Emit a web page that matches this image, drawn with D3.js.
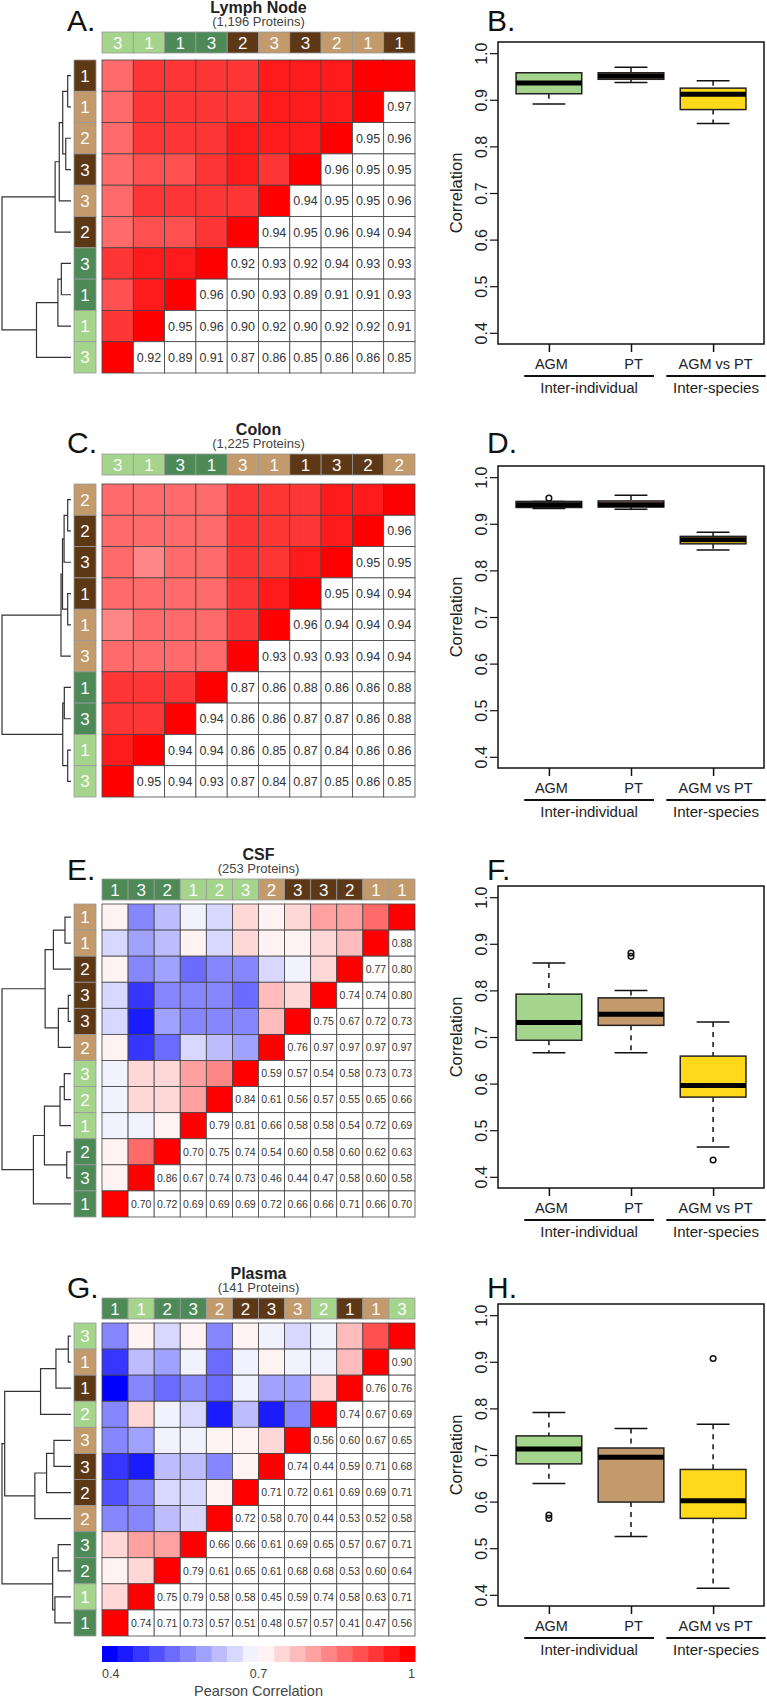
<!DOCTYPE html>
<html>
<head>
<meta charset="utf-8">
<script src="https://cdn.jsdelivr.net/npm/d3@7"></script>
<style>
  body { margin: 0; background: #fff; }
  text { font-family: "Liberation Sans", Arial, sans-serif; }
</style>
</head>
<body>
<svg id="fig" width="767" height="1699"></svg>
<script>
// sample group colours (annotation bars)
var groupColor = { AGM1: "#a5d48c", AGM2: "#4d8a58", PT1: "#c39a6c", PT2: "#5d3816" };

// ---- Lymph node ----
var lnRowNum = [1, 1, 2, 3, 3, 2, 3, 1, 1, 3];
var lnRowGrp = ["PT2", "PT1", "PT1", "PT2", "PT1", "PT2", "AGM2", "AGM2", "AGM1", "AGM1"];
var lnCorr = [
  [],
  [0.97],
  [0.95, 0.96],
  [0.96, 0.95, 0.95],
  [0.94, 0.95, 0.95, 0.96],
  [0.94, 0.95, 0.96, 0.94, 0.94],
  [0.92, 0.93, 0.92, 0.94, 0.93, 0.93],
  [0.96, 0.90, 0.93, 0.89, 0.91, 0.91, 0.93],
  [0.95, 0.96, 0.90, 0.92, 0.90, 0.92, 0.92, 0.91],
  [0.92, 0.89, 0.91, 0.87, 0.86, 0.85, 0.86, 0.86, 0.85]
];
// [height, left, right], leaves are row indexes
var lnTree = [1, [0.23, [0.17, [0.12, [0.048, 0, 1], [0.076, 2, 3]], 4], 5], [0.50, [0.19, [0.14, 6, 7], 8], 9]];

// ---- Colon ----
var coRowNum = [2, 2, 3, 1, 1, 3, 1, 3, 1, 3];
var coRowGrp = ["PT1", "PT2", "PT2", "PT2", "PT1", "PT1", "AGM2", "AGM2", "AGM1", "AGM1"];
var coCorr = [
  [],
  [0.96],
  [0.95, 0.95],
  [0.95, 0.94, 0.94],
  [0.96, 0.94, 0.94, 0.94],
  [0.93, 0.93, 0.93, 0.94, 0.94],
  [0.87, 0.86, 0.88, 0.86, 0.86, 0.88],
  [0.94, 0.86, 0.86, 0.87, 0.87, 0.86, 0.88],
  [0.94, 0.94, 0.86, 0.85, 0.87, 0.84, 0.86, 0.86],
  [0.95, 0.94, 0.93, 0.87, 0.84, 0.87, 0.85, 0.86, 0.85]
];
var coTree = [1, [0.145, [0.123, [0.10, [0.048, 0, 1], 2], [0.048, 3, 4]], 5], [0.12, [0.097, 6, 7], [0.048, 8, 9]]];

// ---- CSF ----
var csfRowNum = [1, 1, 2, 3, 3, 2, 3, 2, 1, 2, 3, 1];
var csfRowGrp = ["PT1", "PT1", "PT2", "PT2", "PT2", "PT1", "AGM1", "AGM1", "AGM1", "AGM2", "AGM2", "AGM2"];
var csfCorr = [
  [],
  [0.88],
  [0.77, 0.80],
  [0.74, 0.74, 0.80],
  [0.75, 0.67, 0.72, 0.73],
  [0.76, 0.97, 0.97, 0.97, 0.97],
  [0.59, 0.57, 0.54, 0.58, 0.73, 0.73],
  [0.84, 0.61, 0.56, 0.57, 0.55, 0.65, 0.66],
  [0.79, 0.81, 0.66, 0.58, 0.58, 0.54, 0.72, 0.69],
  [0.70, 0.75, 0.74, 0.54, 0.60, 0.58, 0.60, 0.62, 0.63],
  [0.86, 0.67, 0.74, 0.73, 0.46, 0.44, 0.47, 0.58, 0.60, 0.58],
  [0.70, 0.72, 0.69, 0.69, 0.69, 0.72, 0.66, 0.66, 0.71, 0.66, 0.70]
];
// shaded cells in the figure that do not mirror the printed numbers: [row, col, value]
var csfShadeFix = [[0, 6, 0.72], [1, 6, 0.72], [2, 6, 0.66], [3, 6, 0.76]];
var csfTree = [1, [0.375, [0.255, [0.087, 0, 1], 2], [0.183, [0.039, 3, 4], 5]], [0.545, [0.385, [0.159, [0.097, 6, 7], 8], [0.062, 9, 10]], 11]];

// ---- Plasma ----
var plRowNum = [3, 1, 1, 2, 3, 3, 2, 2, 3, 2, 1, 1];
var plRowGrp = ["AGM1", "PT1", "PT2", "AGM1", "PT1", "PT2", "PT2", "PT1", "AGM2", "AGM2", "AGM1", "AGM2"];
var plCorr = [
  [],
  [0.90],
  [0.76, 0.76],
  [0.74, 0.67, 0.69],
  [0.56, 0.60, 0.67, 0.65],
  [0.74, 0.44, 0.59, 0.71, 0.68],
  [0.71, 0.72, 0.61, 0.69, 0.69, 0.71],
  [0.72, 0.58, 0.70, 0.44, 0.53, 0.52, 0.58],
  [0.66, 0.66, 0.61, 0.69, 0.65, 0.57, 0.67, 0.71],
  [0.79, 0.61, 0.65, 0.61, 0.68, 0.68, 0.53, 0.60, 0.64],
  [0.75, 0.79, 0.58, 0.58, 0.45, 0.59, 0.74, 0.58, 0.63, 0.71],
  [0.74, 0.71, 0.73, 0.57, 0.51, 0.48, 0.57, 0.57, 0.41, 0.47, 0.56]
];
var plTree = [1, [0.961, [0.441, [0.218, [0.039, 0, 1], 2], 3], [0.524, [0.354, [0.247, 4, 5], 6], 7]], [0.266, [0.185, 8, 9], [0.233, 10, 11]]];

// ---- box plots: [lower whisker, Q1, median, Q3, upper whisker] ----
var boxCats = ["AGM", "PT", "AGM vs PT"];
var boxFill = ["#a5d48c", "#c39a6c", "#ffd91a"];
var boxGroups = [[0.70, 2.28, "Inter-individual"], [2.43, 3.64, "Inter-species"]];
var lnBox = [[0.891, 0.913, 0.936, 0.958, 0.958], [0.937, 0.944, 0.951, 0.958, 0.970], [0.849, 0.879, 0.912, 0.925, 0.941]];
var lnOut = [[], [], []];
var coBox = [[0.933, 0.935, 0.941, 0.948, 0.948], [0.931, 0.936, 0.941, 0.949, 0.961], [0.844, 0.857, 0.866, 0.873, 0.882]];
var coOut = [[0.955], [], []];
var csfBox = [[0.666, 0.693, 0.731, 0.792, 0.859], [0.666, 0.725, 0.749, 0.784, 0.800], [0.464, 0.571, 0.596, 0.659, 0.732]];
var csfOut = [[], [0.873, 0.880], [0.436]];
var plBox = [[0.639, 0.681, 0.713, 0.741, 0.791], [0.525, 0.599, 0.695, 0.715, 0.757], [0.414, 0.564, 0.602, 0.669, 0.766]];
var plOut = [[0.564, 0.571], [], [0.907]];

var scaleTicks = [0.4, 0.7, 1];

var svg = d3.select("#fig");

// 20 step blue-white-red palette, like colorRampPalette(c("blue","white","red"))(20)
var blueWhite = d3.interpolateRgb("#0000ff", "#ffffff"), whiteRed = d3.interpolateRgb("#ffffff", "#ff0000");
var steps = d3.range(20).map(function(i) {
  var t = i / 19;
  return t < 0.5 ? blueWhite(t * 2) : whiteRed((t - 0.5) * 2);
});
var heatColor = d3.scaleQuantize().domain([0.4, 1]).range(steps);
var fmt = d3.format(".2f");

function drawHeat(p) {
  var n = p.rowNum.length;
  var g = svg.append("g");
  var x = d3.scaleBand().domain(d3.range(n)).range([102, 415]);
  var y = d3.scaleBand().domain(d3.range(n)).range([p.heatY, p.heatY + 313]);
  var fix = {};
  (p.fix || []).forEach(function(f) { fix[f[0] + "-" + f[1]] = f[2]; });

  var cells = [];
  d3.range(n).forEach(function(i) {
    d3.range(n).forEach(function(j) {
      var dj = n - 1 - i, c = { i: i, j: j };
      if (j === dj) { c.v = 1; c.kind = "diag"; }
      else if (j > dj) { c.v = p.corr[i][j - dj - 1]; c.kind = "num"; }
      else {
        c.v = p.corr[n - 1 - j][n - 2 - i - j];
        c.kind = "shade";
        if (fix[i + "-" + j] != null) c.v = fix[i + "-" + j];
      }
      cells.push(c);
    });
  });

  g.selectAll("rect.cell").data(cells).enter().append("rect")
    .attr("x", function(d) { return x(d.j); })
    .attr("y", function(d) { return y(d.i); })
    .attr("width", x.bandwidth()).attr("height", y.bandwidth())
    .attr("fill", function(d) { return d.kind === "num" ? "#fff" : heatColor(d.v); })
    .attr("stroke", "#444").attr("stroke-width", 0.8);

  g.selectAll("text.num").data(cells.filter(function(d) { return d.kind === "num"; }))
    .enter().append("text")
    .attr("x", function(d) { return x(d.j) + x.bandwidth() / 2; })
    .attr("y", function(d) { return y(d.i) + y.bandwidth() / 2; })
    .attr("dy", "0.36em").attr("text-anchor", "middle")
    .attr("font-size", n > 10 ? 10.5 : 12.5).attr("fill", "#333")
    .text(function(d) { return fmt(d.v); });

  // row annotation bar
  var rows = d3.range(n);
  g.selectAll("rect.rowbar").data(rows).enter().append("rect")
    .attr("x", 74).attr("y", function(i) { return y(i); })
    .attr("width", 22).attr("height", y.bandwidth())
    .attr("fill", function(i) { return groupColor[p.rowGrp[i]]; })
    .attr("stroke", "#999").attr("stroke-width", 0.8);
  g.selectAll("text.rowbar").data(rows).enter().append("text")
    .attr("x", 85).attr("y", function(i) { return y(i) + y.bandwidth() / 2; })
    .attr("dy", "0.36em").attr("text-anchor", "middle")
    .attr("font-size", 17).attr("fill", "#fafafa")
    .text(function(i) { return p.rowNum[i]; });

  // column annotation bar (columns are rows reversed)
  g.selectAll("rect.colbar").data(rows).enter().append("rect")
    .attr("x", function(j) { return x(j); }).attr("y", p.barY)
    .attr("width", x.bandwidth()).attr("height", 21)
    .attr("fill", function(j) { return groupColor[p.rowGrp[n - 1 - j]]; })
    .attr("stroke", "#999").attr("stroke-width", 0.8);
  g.selectAll("text.colbar").data(rows).enter().append("text")
    .attr("x", function(j) { return x(j) + x.bandwidth() / 2; }).attr("y", p.barY + 10.5)
    .attr("dy", "0.36em").attr("text-anchor", "middle")
    .attr("font-size", 17).attr("fill", "#fafafa")
    .text(function(j) { return p.rowNum[n - 1 - j]; });

  // dendrogram
  var hx = d3.scaleLinear().domain([0, 1]).range([71, 2]);
  var path = d3.path();
  function walk(node) {
    if (typeof node === "number") return { x: hx(0), y: y(node) + y.bandwidth() / 2 };
    var a = walk(node[1]), b = walk(node[2]), nx = hx(node[0]);
    path.moveTo(a.x, a.y); path.lineTo(nx, a.y); path.lineTo(nx, b.y); path.lineTo(b.x, b.y);
    return { x: nx, y: (a.y + b.y) / 2 };
  }
  walk(p.tree);
  g.append("path").attr("d", path.toString()).attr("fill", "none")
    .attr("stroke", "#333").attr("stroke-width", 1.2);

  g.append("text").attr("x", 258.5).attr("y", p.barY - 19).attr("text-anchor", "middle")
    .attr("font-size", 16).attr("font-weight", "bold").attr("fill", "#222").text(p.title);
  g.append("text").attr("x", 258.5).attr("y", p.barY - 6).attr("text-anchor", "middle")
    .attr("font-size", 13).attr("fill", "#444").text(p.sub);
  g.append("text").attr("x", 67).attr("y", p.letterY)
    .attr("font-size", 30).attr("fill", "#111").text(p.letter);
}

function drawBox(p) {
  var g = svg.append("g");
  var left = 498, right = 764, top = p.top, bottom = p.top + 302;
  var x = d3.scaleLinear().domain([0.38, 3.62]).range([left, right]);
  var y = d3.scaleLinear().domain([0.376, 1.024]).range([bottom, top]);

  var yAxis = g.append("g").attr("transform", "translate(" + left + ",0)")
    .call(d3.axisLeft(y).tickValues([0.4, 0.5, 0.6, 0.7, 0.8, 0.9, 1.0])
      .tickFormat(d3.format(".1f")).tickSize(8));
  yAxis.select(".domain").remove();
  yAxis.selectAll("line").attr("stroke", "#111").attr("stroke-width", 1.2);
  yAxis.selectAll("text").attr("x", null).attr("dy", null)
    .attr("transform", "translate(-11,0) rotate(-90)")
    .attr("text-anchor", "middle").attr("font-size", 16).attr("fill", "#222")
    .attr("font-family", "Liberation Sans, Arial, sans-serif");

  var xAxis = g.append("g").attr("transform", "translate(0," + bottom + ")")
    .call(d3.axisBottom(x).tickValues([1, 2, 3])
      .tickFormat(function(k) { return boxCats[k - 1]; }).tickSize(8));
  xAxis.select(".domain").remove();
  xAxis.selectAll("line").attr("stroke", "#111").attr("stroke-width", 1.5);
  xAxis.selectAll("text").attr("y", 25).attr("dy", null).attr("x", 2)
    .attr("font-size", 14.5).attr("fill", "#222")
    .attr("font-family", "Liberation Sans, Arial, sans-serif");

  boxGroups.forEach(function(gr) {
    g.append("line").attr("x1", x(gr[0])).attr("x2", x(gr[1]))
      .attr("y1", bottom + 32).attr("y2", bottom + 32)
      .attr("stroke", "#111").attr("stroke-width", 2);
    g.append("text").attr("x", (x(gr[0]) + x(gr[1])) / 2).attr("y", bottom + 49)
      .attr("text-anchor", "middle").attr("font-size", 15).attr("fill", "#222").text(gr[2]);
  });

  p.stats.forEach(function(s, k) {
    var cx = x(k + 1), hw = x(1.4) - x(1), cw = x(1.2) - x(1);
    g.append("line").attr("x1", cx).attr("x2", cx).attr("y1", y(s[4])).attr("y2", y(s[3]))
      .attr("stroke", "#111").attr("stroke-width", 1.5).attr("stroke-dasharray", "5,5");
    g.append("line").attr("x1", cx).attr("x2", cx).attr("y1", y(s[1])).attr("y2", y(s[0]))
      .attr("stroke", "#111").attr("stroke-width", 1.5).attr("stroke-dasharray", "5,5");
    [s[0], s[4]].forEach(function(v) {
      g.append("line").attr("x1", cx - cw).attr("x2", cx + cw).attr("y1", y(v)).attr("y2", y(v))
        .attr("stroke", "#111").attr("stroke-width", 1.5);
    });
    g.append("rect").attr("x", cx - hw).attr("y", y(s[3]))
      .attr("width", 2 * hw).attr("height", y(s[1]) - y(s[3]))
      .attr("fill", boxFill[k]).attr("stroke", "#222").attr("stroke-width", 1.5);
    g.append("line").attr("x1", cx - hw).attr("x2", cx + hw).attr("y1", y(s[2])).attr("y2", y(s[2]))
      .attr("stroke", "#000").attr("stroke-width", 5);
    p.out[k].forEach(function(v) {
      g.append("circle").attr("cx", cx).attr("cy", y(v)).attr("r", 2.8)
        .attr("fill", "none").attr("stroke", "#111").attr("stroke-width", 1.5);
    });
  });

  g.append("rect").attr("x", left).attr("y", top).attr("width", right - left).attr("height", bottom - top)
    .attr("fill", "none").attr("stroke", "#111").attr("stroke-width", 1.5);
  g.append("text").attr("transform", "translate(462," + (top + 151) + ") rotate(-90)")
    .attr("text-anchor", "middle").attr("font-size", 16.5).attr("fill", "#222").text("Correlation");
  g.append("text").attr("x", 487).attr("y", p.letterY)
    .attr("font-size", 30).attr("fill", "#111").text(p.letter);
}

drawHeat({ rowNum: lnRowNum, rowGrp: lnRowGrp, corr: lnCorr, tree: lnTree, barY: 32, heatY: 60,
  title: "Lymph Node", sub: "(1,196 Proteins)", letter: "A.", letterY: 31 });
drawHeat({ rowNum: coRowNum, rowGrp: coRowGrp, corr: coCorr, tree: coTree, barY: 454, heatY: 484,
  title: "Colon", sub: "(1,225 Proteins)", letter: "C.", letterY: 453 });
drawHeat({ rowNum: csfRowNum, rowGrp: csfRowGrp, corr: csfCorr, tree: csfTree, fix: csfShadeFix, barY: 879, heatY: 904,
  title: "CSF", sub: "(253 Proteins)", letter: "E.", letterY: 880 });
drawHeat({ rowNum: plRowNum, rowGrp: plRowGrp, corr: plCorr, tree: plTree, barY: 1298, heatY: 1323,
  title: "Plasma", sub: "(141 Proteins)", letter: "G.", letterY: 1298 });

drawBox({ stats: lnBox, out: lnOut, top: 42, letter: "B.", letterY: 31 });
drawBox({ stats: coBox, out: coOut, top: 466, letter: "D.", letterY: 453 });
drawBox({ stats: csfBox, out: csfOut, top: 886, letter: "F.", letterY: 880 });
drawBox({ stats: plBox, out: plOut, top: 1304, letter: "H.", letterY: 1298 });

// colour key under the plasma heatmap
var key = svg.append("g");
var kx = d3.scaleLinear().domain([0.4, 1]).range([102, 415]);
key.selectAll("rect").data(steps).enter().append("rect")
  .attr("x", function(c, i) { return kx(0.4 + i * 0.03); })
  .attr("y", 1646).attr("width", kx(0.43) - kx(0.4) + 0.5).attr("height", 16)
  .attr("fill", function(c) { return c; });
key.selectAll("text.tick").data(scaleTicks).enter().append("text")
  .attr("x", function(v) { return kx(v); }).attr("y", 1678)
  .attr("text-anchor", function(v, i) { return i === 0 ? "start" : (i === scaleTicks.length - 1 ? "end" : "middle"); })
  .attr("font-size", 12.5).attr("fill", "#444")
  .text(function(v) { return v; });
key.append("text").attr("x", 258.5).attr("y", 1696).attr("text-anchor", "middle")
  .attr("font-size", 14.5).attr("fill", "#444").text("Pearson Correlation");
</script>
</body>
</html>
